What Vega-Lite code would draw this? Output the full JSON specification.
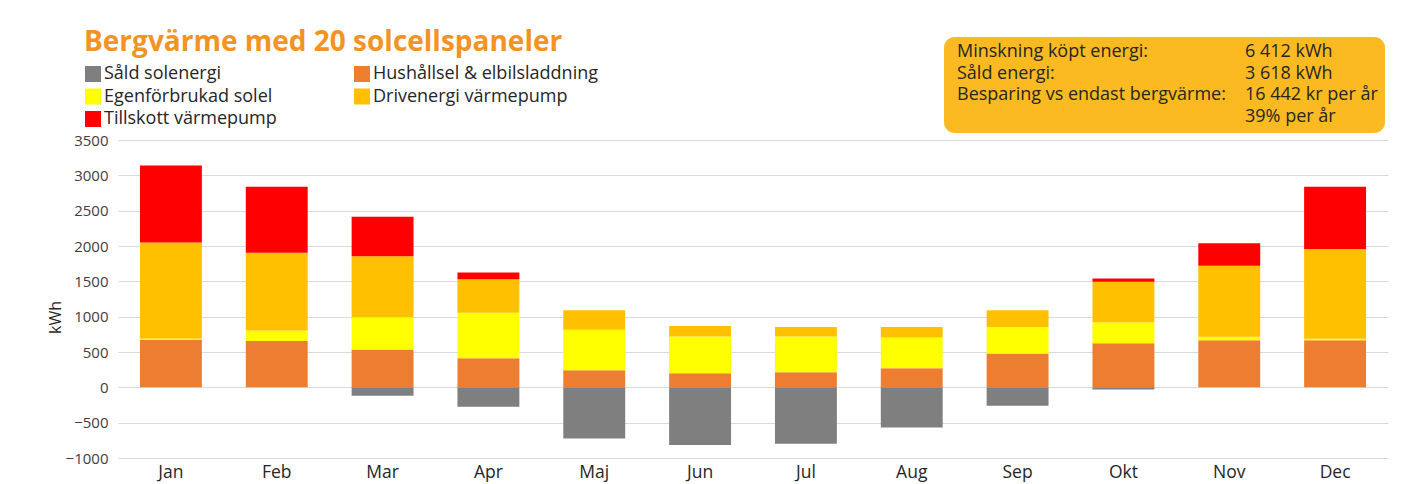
{
  "$schema": "https://vega.github.io/schema/vega-lite/v6.json",
  "width": 1270,
  "height": 318,
  "autosize": {"type": "none"},
  "padding": {"left": 118, "top": 140, "right": 30, "bottom": 26},
  "background": "white",
  "config": {
    "font": "Open Sans",
    "view": {"stroke": null},
    "axis": {"labelFont": "Open Sans", "titleFont": "Open Sans"},
    "legend": {"labelFont": "Open Sans"}
  },
  "title": {
    "text": "Bergvärme med 20 solcellspaneler",
    "anchor": "start",
    "frame": "group",
    "dx": -34,
    "fontSize": 28,
    "fontWeight": "bold",
    "color": "#F39323",
    "font": "Open Sans",
    "offset": 0,
    "dy": 20
  },
  "layer": [
    {
      "data": {
        "values": [
          {"month": "Jan", "series": "Hushållsel & elbilsladdning", "value": 670},
          {"month": "Jan", "series": "Egenförbrukad solel", "value": 20},
          {"month": "Jan", "series": "Drivenergi värmepump", "value": 1360},
          {"month": "Jan", "series": "Tillskott värmepump", "value": 1090},
          {"month": "Feb", "series": "Hushållsel & elbilsladdning", "value": 655},
          {"month": "Feb", "series": "Egenförbrukad solel", "value": 150},
          {"month": "Feb", "series": "Drivenergi värmepump", "value": 1100},
          {"month": "Feb", "series": "Tillskott värmepump", "value": 935},
          {"month": "Mar", "series": "Såld solenergi", "value": -120},
          {"month": "Mar", "series": "Hushållsel & elbilsladdning", "value": 535},
          {"month": "Mar", "series": "Egenförbrukad solel", "value": 455},
          {"month": "Mar", "series": "Drivenergi värmepump", "value": 865},
          {"month": "Mar", "series": "Tillskott värmepump", "value": 560},
          {"month": "Apr", "series": "Såld solenergi", "value": -275},
          {"month": "Apr", "series": "Hushållsel & elbilsladdning", "value": 410},
          {"month": "Apr", "series": "Egenförbrukad solel", "value": 645},
          {"month": "Apr", "series": "Drivenergi värmepump", "value": 475},
          {"month": "Apr", "series": "Tillskott värmepump", "value": 95},
          {"month": "Maj", "series": "Såld solenergi", "value": -725},
          {"month": "Maj", "series": "Hushållsel & elbilsladdning", "value": 240},
          {"month": "Maj", "series": "Egenförbrukad solel", "value": 575},
          {"month": "Maj", "series": "Drivenergi värmepump", "value": 275},
          {"month": "Jun", "series": "Såld solenergi", "value": -815},
          {"month": "Jun", "series": "Hushållsel & elbilsladdning", "value": 200},
          {"month": "Jun", "series": "Egenförbrukad solel", "value": 520},
          {"month": "Jun", "series": "Drivenergi värmepump", "value": 147},
          {"month": "Jul", "series": "Såld solenergi", "value": -800},
          {"month": "Jul", "series": "Hushållsel & elbilsladdning", "value": 213},
          {"month": "Jul", "series": "Egenförbrukad solel", "value": 507},
          {"month": "Jul", "series": "Drivenergi värmepump", "value": 133},
          {"month": "Aug", "series": "Såld solenergi", "value": -570},
          {"month": "Aug", "series": "Hushållsel & elbilsladdning", "value": 270},
          {"month": "Aug", "series": "Egenförbrukad solel", "value": 436},
          {"month": "Aug", "series": "Drivenergi värmepump", "value": 147},
          {"month": "Sep", "series": "Såld solenergi", "value": -260},
          {"month": "Sep", "series": "Hushållsel & elbilsladdning", "value": 480},
          {"month": "Sep", "series": "Egenförbrukad solel", "value": 375},
          {"month": "Sep", "series": "Drivenergi värmepump", "value": 235},
          {"month": "Okt", "series": "Såld solenergi", "value": -30},
          {"month": "Okt", "series": "Hushållsel & elbilsladdning", "value": 625},
          {"month": "Okt", "series": "Egenförbrukad solel", "value": 295},
          {"month": "Okt", "series": "Drivenergi värmepump", "value": 575},
          {"month": "Okt", "series": "Tillskott värmepump", "value": 45},
          {"month": "Nov", "series": "Hushållsel & elbilsladdning", "value": 668},
          {"month": "Nov", "series": "Egenförbrukad solel", "value": 48},
          {"month": "Nov", "series": "Drivenergi värmepump", "value": 1005},
          {"month": "Nov", "series": "Tillskott värmepump", "value": 318},
          {"month": "Dec", "series": "Hushållsel & elbilsladdning", "value": 668},
          {"month": "Dec", "series": "Egenförbrukad solel", "value": 20},
          {"month": "Dec", "series": "Drivenergi värmepump", "value": 1270},
          {"month": "Dec", "series": "Tillskott värmepump", "value": 882}
        ]
      },
      "transform": [
        {"calculate": "indexof(['Såld solenergi', 'Hushållsel & elbilsladdning', 'Egenförbrukad solel', 'Drivenergi värmepump', 'Tillskott värmepump'], datum.series)", "as": "stackOrder"}
      ],
      "mark": {"type": "bar"},
      "encoding": {
        "x": {
          "field": "month",
          "type": "nominal",
          "sort": ["Jan", "Feb", "Mar", "Apr", "Maj", "Jun", "Jul", "Aug", "Sep", "Okt", "Nov", "Dec"],
          "scale": {"paddingInner": 0.415, "paddingOuter": 0.2075},
          "axis": {
            "title": null,
            "labelAngle": 0,
            "labelFontSize": 17.5,
            "labelColor": "#262626",
            "labelPadding": 5,
            "domain": false,
            "ticks": false,
            "grid": false
          }
        },
        "y": {
          "field": "value",
          "type": "quantitative",
          "stack": "zero",
          "scale": {"domain": [-1000, 3500], "nice": false},
          "axis": {
            "title": "kWh",
            "titleFontSize": 16,
            "titleFontWeight": "normal",
            "titleColor": "#262626",
            "titlePadding": 2,
            "titleY": 177,
            "format": "d",
            "values": [-1000, -500, 0, 500, 1000, 1500, 2000, 2500, 3000, 3500],
            "labelFontSize": 15,
            "labelColor": "#404040",
            "labelPadding": 10,
            "domain": false,
            "ticks": false,
            "gridColor": "#D9D9D9",
            "gridWidth": 1
          }
        },
        "order": {"field": "stackOrder", "type": "quantitative", "sort": "ascending"},
        "color": {
          "field": "series",
          "type": "nominal",
          "scale": {
            "domain": ["Såld solenergi", "Hushållsel & elbilsladdning", "Egenförbrukad solel", "Drivenergi värmepump", "Tillskott värmepump"],
            "range": ["#7F7F7F", "#ED7D31", "#FFFF00", "#FFC000", "#FF0000"]
          },
          "legend": {
            "title": null,
            "orient": "none",
            "direction": "horizontal",
            "legendX": -34,
            "legendY": -75,
            "columns": 2,
            "symbolType": "square",
            "symbolSize": 256,
            "symbolStrokeWidth": 0,
            "symbolOpacity": 1,
            "labelFontSize": 18,
            "labelColor": "#262626",
            "labelOffset": 2,
            "rowPadding": 4.5,
            "columnPadding": 76,
            "padding": 0,
            "labelLimit": 400
          }
        }
      }
    },
    {
      "data": {
        "values": [
          {"line": "Minskning köpt energi:"},
          {"line": "6 412 kWh"},
          {"line": "Såld energi:"},
          {"line": "3 618 kWh"},
          {"line": "Besparing vs endast bergvärme:"},
          {"line": "16 442 kr per år"},
          {"line": " "},
          {"line": "39% per år"}
        ]
      },
      "mark": {"type": "point", "opacity": 0},
      "encoding": {
        "shape": {
          "field": "line",
          "type": "nominal",
          "sort": null,
          "legend": {
            "title": null,
            "orient": "none",
            "direction": "horizontal",
            "legendX": 826,
            "legendY": -103,
            "columns": 2,
            "symbolSize": 0,
            "symbolOpacity": 0,
            "symbolStrokeWidth": 0,
            "labelFontSize": 18,
            "labelColor": "#262626",
            "labelOffset": -11,
            "rowPadding": 3.5,
            "columnPadding": 12,
            "padding": 6,
            "fillColor": "#FBBA22",
            "cornerRadius": 10,
            "strokeColor": "#FBBA22",
            "labelLimit": 400,
            "encode": {
              "labels": {
                "update": {
                  "dx": {"signal": "datum.label == '39% per år' ? 21 : (datum.label == '6 412 kWh' || datum.label == '3 618 kWh') ? 11 : 0"}
                }
              }
            }
          }
        }
      }
    }
  ]
}
